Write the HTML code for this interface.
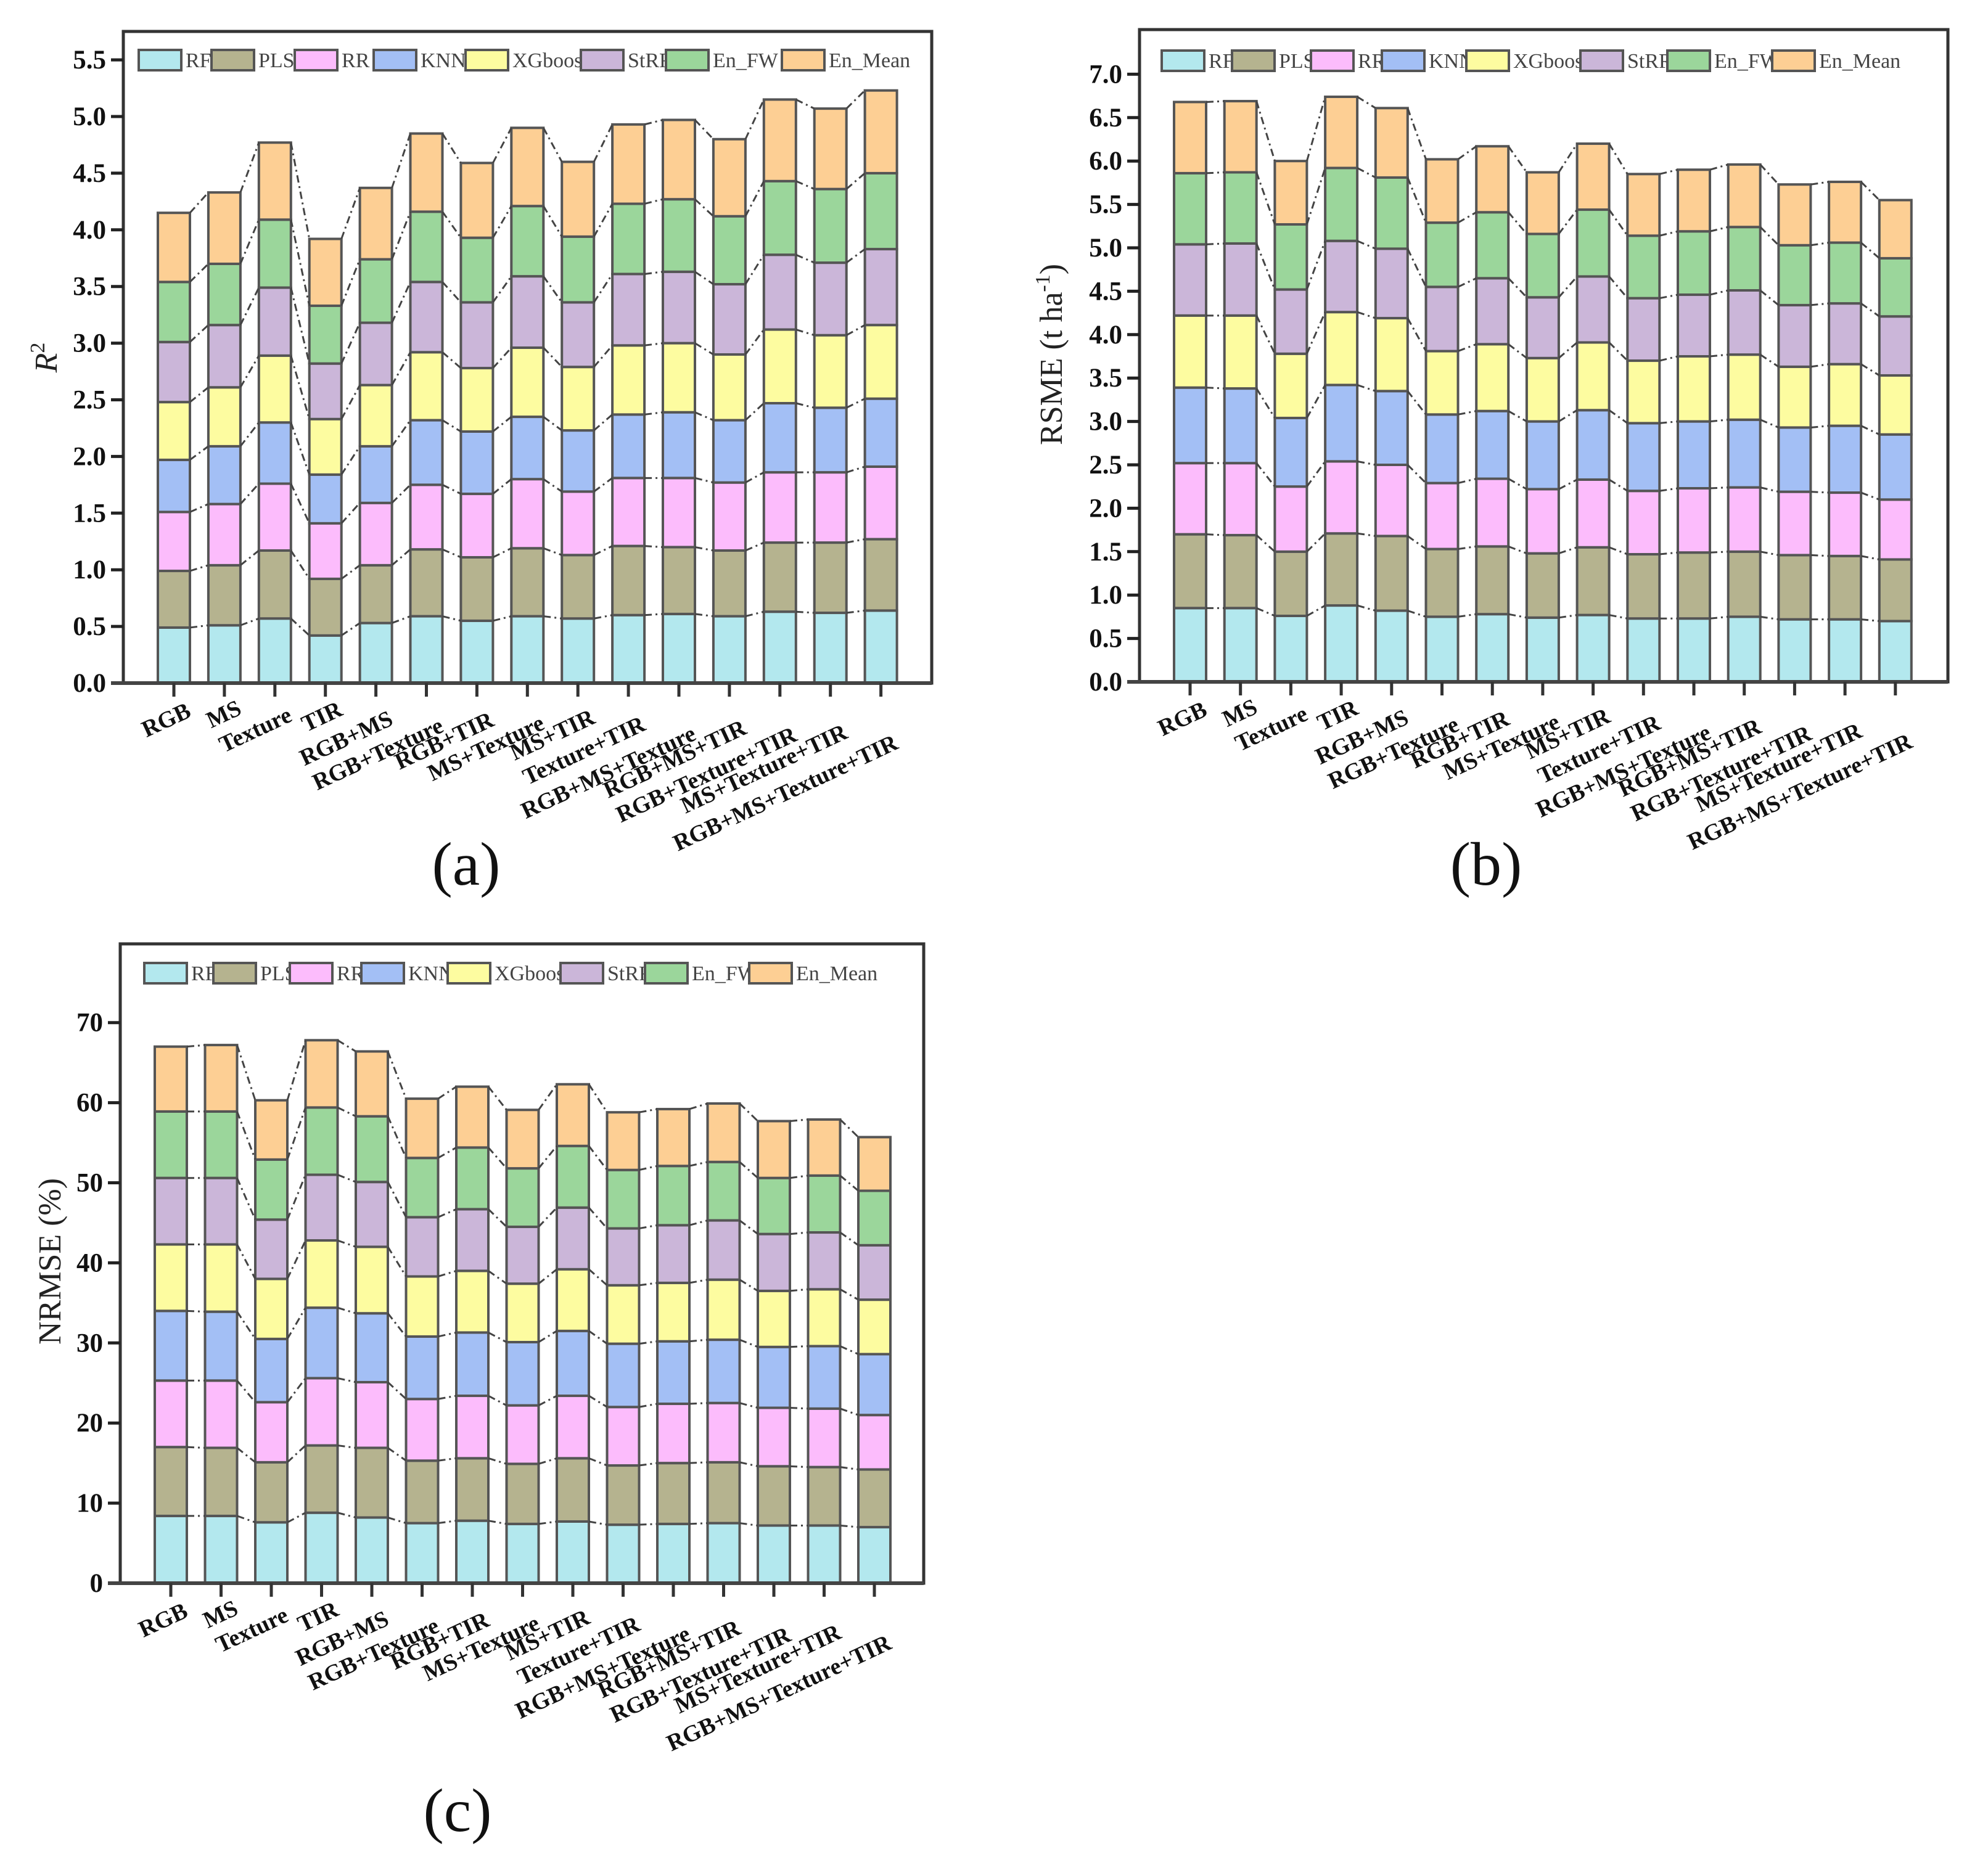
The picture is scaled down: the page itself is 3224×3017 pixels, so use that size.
<!DOCTYPE html>
<html><head><meta charset="utf-8"><style>
html,body{margin:0;padding:0;background:#fff}
svg{display:block}
text{font-family:"Liberation Serif",serif}
</style></head><body>
<svg id="root" width="3224" height="3017" viewBox="0 0 3224 3017" xmlns="http://www.w3.org/2000/svg"></svg>
<script>
const categories=["RGB","MS","Texture","TIR","RGB+MS","RGB+Texture","RGB+TIR","MS+Texture","MS+TIR","Texture+TIR","RGB+MS+Texture","RGB+MS+TIR","RGB+Texture+TIR","MS+Texture+TIR","RGB+MS+Texture+TIR"];
const seriesNames=["RF","PLS","RR","KNN","XGboost","StRR","En_FW","En_Mean"];
// Panel (a) R2
const aRF=[.49,.51,.57,.42,.53,.59,.55,.59,.57,.60,.61,.59,.63,.62,.64];
const aPLS=[.50,.53,.60,.50,.51,.59,.56,.60,.56,.61,.59,.58,.61,.62,.63];
const aRR=[.52,.54,.59,.49,.55,.57,.56,.61,.56,.60,.61,.60,.62,.62,.64];
const aKNN=[.46,.51,.54,.43,.50,.57,.55,.55,.54,.56,.58,.55,.61,.57,.60];
const aXG=[.51,.52,.59,.49,.54,.60,.56,.61,.56,.61,.61,.58,.65,.64,.65];
const aStRR=[.53,.55,.60,.49,.55,.62,.58,.63,.57,.63,.63,.62,.66,.64,.67];
const aFW=[.53,.54,.60,.51,.56,.62,.57,.62,.58,.62,.64,.60,.65,.65,.67];
const aMean=[.61,.63,.68,.59,.63,.69,.66,.69,.66,.70,.70,.68,.72,.71,.73];
const aTicks=["0.0","0.5","1.0","1.5","2.0","2.5","3.0","3.5","4.0","4.5","5.0","5.5"];
// Panel (b) RMSE
const bRF=[.85,.85,.76,.88,.82,.75,.78,.74,.77,.73,.73,.75,.72,.72,.70];
const bPLS=[.85,.84,.74,.83,.86,.78,.78,.74,.78,.74,.76,.75,.74,.73,.71];
const bRR=[.82,.83,.75,.83,.82,.76,.78,.74,.78,.73,.74,.74,.73,.73,.69];
const bKNN=[.87,.86,.79,.88,.85,.79,.78,.78,.80,.78,.77,.78,.74,.77,.75];
const bXG=[.83,.84,.74,.84,.84,.73,.77,.73,.78,.72,.75,.75,.70,.71,.68];
const bStRR=[.82,.83,.74,.82,.80,.74,.76,.70,.76,.72,.71,.74,.71,.70,.68];
const bFW=[.82,.82,.75,.84,.82,.74,.76,.73,.77,.72,.73,.73,.69,.70,.67];
const bMean=[.82,.82,.73,.82,.80,.73,.76,.71,.76,.71,.71,.72,.70,.70,.67];
const bTicks=["0.0","0.5","1.0","1.5","2.0","2.5","3.0","3.5","4.0","4.5","5.0","5.5","6.0","6.5","7.0"];
// Panel (c) NRMSE
const cRF=[8.4,8.4,7.6,8.8,8.2,7.5,7.8,7.4,7.7,7.3,7.4,7.5,7.2,7.2,7.0];
const cPLS=[8.6,8.5,7.5,8.4,8.7,7.8,7.8,7.5,7.9,7.4,7.6,7.6,7.4,7.3,7.2];
const cRR=[8.3,8.4,7.5,8.4,8.2,7.7,7.8,7.3,7.8,7.3,7.4,7.4,7.3,7.3,6.8];
const cKNN=[8.7,8.6,7.9,8.8,8.6,7.8,7.9,7.9,8.1,7.9,7.8,7.9,7.6,7.8,7.6];
const cXG=[8.3,8.4,7.5,8.4,8.3,7.5,7.7,7.3,7.7,7.3,7.3,7.5,7.0,7.1,6.8];
const cStRR=[8.3,8.3,7.4,8.2,8.1,7.4,7.7,7.1,7.7,7.1,7.2,7.4,7.1,7.1,6.8];
const cFW=[8.3,8.3,7.5,8.4,8.2,7.4,7.7,7.3,7.7,7.3,7.4,7.3,7.0,7.1,6.8];
const cMean=[8.1,8.3,7.4,8.4,8.1,7.4,7.6,7.3,7.7,7.2,7.1,7.3,7.1,7.0,6.7];
const cTicks=["0","10","20","30","40","50","60","70"];

const colors=["#b3e8ee","#b5b38f","#fcbcfc","#a3bff5","#fdfca0","#cbb6d9","#9bd69b","#fdcf94"];
const NS="http://www.w3.org/2000/svg";
const root=document.getElementById('root');
function mk(tag,attrs,parent,txt){const e=document.createElementNS(NS,tag);for(const k in attrs)e.setAttribute(k,attrs[k]);if(txt!==undefined)e.textContent=txt;(parent||root).appendChild(e);return e;}

function drawChart(cfg){
  const g=mk('g',{});
  
  
  const L=cfg.left,R=cfg.right,T=cfg.top,B=cfg.y0;
  const yS=v=>B-(v/cfg.tickStep)*cfg.pxPerTick;
  const xS=i=>cfg.x0+i*cfg.step;
  const fr=mk('rect',{x:L,y:T,width:R-L,height:B-T,fill:'none',stroke:'#333','stroke-width':5},g);
  
  
  cfg.ticks.forEach((t,k)=>{
    const y=yS(k*cfg.tickStep);
    const tl=mk('line',{x1:L-20,x2:L,y1:y,y2:y,stroke:'#222','stroke-width':5},g);
    
    
    const tx=mk('text',{x:L-28,y:y+14,'text-anchor':'end','font-size':43,'font-weight':'bold',fill:'#111'},g,t);
    
    
  });
  const yt=mk('text',{x:0,y:0,'text-anchor':'middle','font-size':52,fill:'#222',transform:`translate(${cfg.titleX},${cfg.titleY}) rotate(-90)`},g);
  
  
  if(cfg.title==='R2'){mk('tspan',{'font-style':'italic'},yt,'R');mk('tspan',{dy:-20,'font-size':34},yt,'2');}
  else if(cfg.title==='RSME'){yt.appendChild(document.createTextNode('RSME (t ha'));mk('tspan',{dy:-20,'font-size':34},yt,'-1');mk('tspan',{dy:20},yt,')');}
  else yt.textContent=cfg.title;
  const n=categories.length;
  const cum=new Array(n).fill(0);
  const tops=[];
  cfg.series.forEach((arr,s)=>{
    const row=[];
    for(let i=0;i<n;i++){
      const y1=yS(cum[i]),y2=yS(cum[i]+arr[i]);
      const r=mk('rect',{x:xS(i)-26,y:y2,width:52,height:y1-y2,fill:colors[s],stroke:'#555','stroke-width':4},g);
      
      
      cum[i]+=arr[i];row.push(y2);
    }
    tops.push(row);
  });
  tops.forEach((row,s)=>{
    let d2='';
    for(let i=0;i<n-1;i++){d2+=`M${xS(i)+26} ${row[i]} L${xS(i+1)-26} ${row[i+1]} `;}
    const p=mk('path',{d:d2,fill:'none',stroke:'#444','stroke-width':3,'stroke-dasharray':'12 6 3 6'},g);
    
    
  });
  const ax=mk('line',{x1:L-20,x2:R,y1:B,y2:B,stroke:'#444','stroke-width':6},g);
  
  
  categories.forEach((c,i)=>{
    const x=xS(i);
    const tk=mk('line',{x1:x,x2:x,y1:B,y2:B+22,stroke:'#333','stroke-width':5},g);
    
    
    const lb=mk('text',{x:0,y:0,'text-anchor':'end','font-size':38,'font-weight':'bold',fill:'#111'},g,c);
    
    
    const len=lb.getComputedTextLength();
    lb.setAttribute('transform',`translate(${x+30},${B+40+0.165*len}) rotate(-25)`);
  });
  const lg=mk('g',{},g);
  
  
  seriesNames.forEach((nm,s)=>{
    const x=cfg.legendX[s];
    const sw=mk('rect',{x:x,y:cfg.legendY-16,width:69,height:33,fill:colors[s],stroke:'#555','stroke-width':4},lg);
    
    
    const t=mk('text',{x:x+76,y:cfg.legendY+12,'font-size':34,fill:'#444'},lg,nm);
    
    
  });
  const pl=mk('text',{x:cfg.labelX,y:cfg.labelY,'text-anchor':'middle','font-size':100,fill:'#111'},g,cfg.letter);
  
  
}

drawChart({name:'chart-r2',left:200,right:1511,top:51,y0:1108,tickStep:0.5,pxPerTick:91.9,x0:282,step:81.9,
  ticks:aTicks,series:[aRF,aPLS,aRR,aKNN,aXG,aStRR,aFW,aMean],title:'R2',titleX:92,titleY:580,
  legendX:[225,343,478,606,755,942,1080,1268],legendY:97,letter:'(a)',labelX:756,labelY:1435});
drawChart({name:'chart-rmse',left:1848,right:3159,top:48,y0:1106,tickStep:0.5,pxPerTick:70.4,x0:1930,step:81.7,
  ticks:bTicks,series:[bRF,bPLS,bRR,bKNN,bXG,bStRR,bFW,bMean],title:'RSME',titleX:1722,titleY:575,
  legendX:[1884,1998,2126,2241,2378,2563,2704,2874],legendY:98,letter:'(b)',labelX:2410,labelY:1435});
drawChart({name:'chart-nrmse',left:195,right:1498,top:1531,y0:2568,tickStep:10,pxPerTick:129.9,x0:277,step:81.5,
  ticks:cTicks,series:[cRF,cPLS,cRR,cKNN,cXG,cStRR,cFW,cMean],title:'NRMSE (%)',titleX:98,titleY:2046,
  legendX:[234,346,470,586,726,909,1046,1215],legendY:1578,letter:'(c)',labelX:742,labelY:2970});
</script>
</body></html>
